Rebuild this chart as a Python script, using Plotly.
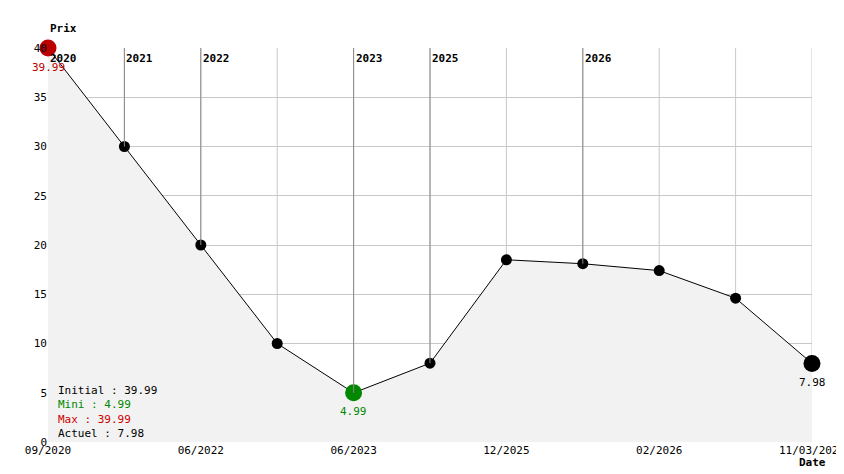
import plotly.graph_objects as go

idx = list(range(11))
prices = [39.99, 30, 20, 10, 4.99, 8, 18.5, 18.1, 17.4, 14.6, 7.98]
tick_idx = [0, 2, 4, 6, 8, 10]
tick_labels = ["09/2020", "06/2022", "06/2023", "12/2025", "02/2026", "11/03/2026"]
year_idx = [0, 1, 2, 4, 5, 7]
year_labels = ["2020", "2021", "2022", "2023", "2025", "2026"]

F = "DejaVu Sans Mono"
fig = go.Figure()
fig.add_trace(go.Scatter(x=idx, y=prices, mode="lines", fill="tozeroy", cliponaxis=False,
                         fillcolor="#f2f2f2", line=dict(color="black", width=1), hoverinfo="skip"))
fig.add_trace(go.Scatter(x=idx[1:-1], y=prices[1:-1], mode="markers", cliponaxis=False,
                         marker=dict(color="black", size=11)))
fig.add_trace(go.Scatter(x=[0], y=[prices[0]], mode="markers", cliponaxis=False, marker=dict(color="#bb0000", size=17)))
fig.add_trace(go.Scatter(x=[4], y=[prices[4]], mode="markers", cliponaxis=False, marker=dict(color="#008800", size=17)))
fig.add_trace(go.Scatter(x=[10], y=[prices[10]], mode="markers", cliponaxis=False, marker=dict(color="black", size=17)))

for i, lab in zip(year_idx, year_labels):
    fig.add_shape(type="line", x0=i, x1=i, y0=prices[i], y1=40, line=dict(color="#888", width=1))
    fig.add_annotation(x=i, y=40, text="<b>" + lab + "</b>", showarrow=False, xanchor="left",
                       yanchor="top", yshift=-2, font=dict(size=11, color="black", family=F))

fig.add_annotation(x=0, y=prices[0], text="39.99", showarrow=False, yshift=-19, font=dict(size=11, color="#bb0000", family=F))
fig.add_annotation(x=4, y=prices[4], text="4.99", showarrow=False, yshift=-19, font=dict(size=11, color="#008800", family=F))
fig.add_annotation(x=10, y=prices[10], text="7.98", showarrow=False, yshift=-19, font=dict(size=11, color="black", family=F))

fig.add_annotation(xref="paper", yref="paper", x=0.01, y=0.0, xanchor="left", yanchor="bottom", align="left",
                   showarrow=False, font=dict(size=11, family=F, color="black"),
                   text="Initial : 39.99<br><span style='color:#008800'>Mini : 4.99</span><br>"
                        "<span style='color:#cc0000'>Max : 39.99</span><br>Actuel : 7.98")
fig.add_annotation(xref="paper", yref="paper", x=0, y=1, yshift=28, xanchor="left", text="<b>Prix</b>",
                   showarrow=False, font=dict(size=11, family=F))
fig.add_annotation(xref="paper", yref="paper", x=1, y=0, yshift=-29, xanchor="center", text="<b>Date</b>",
                   showarrow=False, font=dict(size=11, family=F))

fig.update_layout(width=844, height=474, margin=dict(l=40, r=40, t=40, b=40, autoexpand=False),
                  plot_bgcolor="white", paper_bgcolor="white", showlegend=False,
                  font=dict(family=F, size=11, color="black"))
fig.update_xaxes(range=[0, 10], tickmode="array", tickvals=tick_idx, ticktext=tick_labels, showgrid=False,
                 zeroline=False, showline=False, automargin=False, ticklen=0, ticks="")
for i in idx:
    fig.add_shape(type="line", x0=i, x1=i, y0=0, y1=40, line=dict(color="#c8c8c8", width=1), layer="below")
fig.update_yaxes(range=[0, 40], dtick=5, showgrid=True, gridcolor="#c8c8c8", zeroline=False, automargin=False)
fig.write_html("out.html")
